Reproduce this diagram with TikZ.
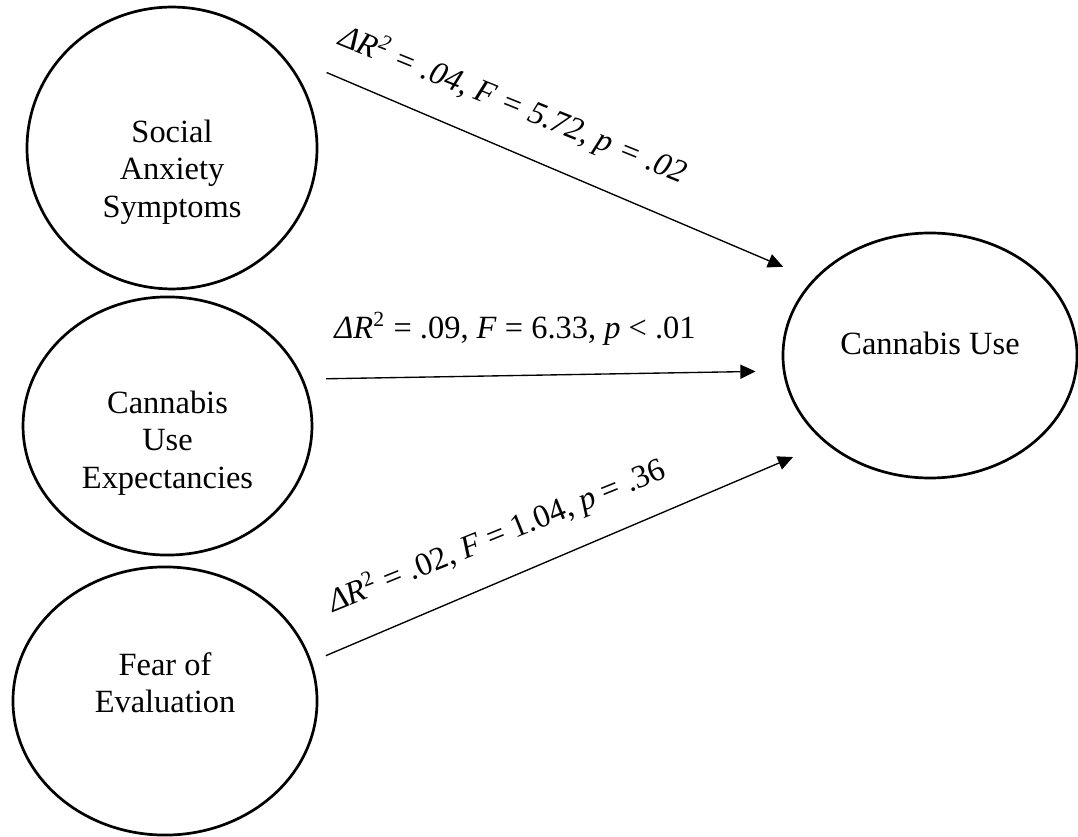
\documentclass[tikz,border=0pt]{standalone}
\usepackage{fontspec}
\setmainfont{Liberation Serif}
\usepackage{tikz}
\usetikzlibrary{shapes.geometric,arrows.meta}

\begin{document}
\begin{tikzpicture}[x=0.37pt,y=0.37pt,
  var/.style={draw=drawColor,ellipse,line width=1pt,inner sep=0pt},
  varText/.style={text=drawColor,align=center,font=\fontsize{12pt}{13.9pt}\selectfont},
  effect/.style={draw=drawColor,line width=0.5pt,-{Triangle[length=5.6pt,width=5.2pt]}},
  statLabel/.style={text=drawColor,inner sep=0pt,font=\fontsize{12pt}{13.9pt}\selectfont}]
\definecolor{drawColor}{RGB}{0,0,0}
\path[use as bounding box] (0,0) rectangle (1078,836);

% predictors
\node[var,minimum width=107.3pt,minimum height=104.3pt,
  label={[varText,yshift=-8.9pt]center:Social\\Anxiety\\Symptoms}] (sa) at (172,688) {};
\node[var,minimum width=106.9pt,minimum height=95.5pt,
  label={[varText,yshift=-6.3pt]center:Cannabis\\Use\\Expectancies}] (cue) at (167.5,410) {};
\node[var,minimum width=112.5pt,minimum height=99.2pt,
  label={[varText,yshift=6.7pt]center:Fear of\\Evaluation}] (fe) at (165,135) {};

% outcome
\node[var,minimum width=108.8pt,minimum height=90.65pt,
  label={[varText,yshift=4.6pt]center:Cannabis Use}] (cu) at (930,480.5) {};

% paths
\draw[effect,shorten <=18.3pt,shorten >=12pt] (sa.41) -- (cu.147);
\draw[effect,shorten <=8.3pt,shorten >=10.1pt] (cue.19) -- (cu.186);
\draw[effect,shorten <=5.7pt,shorten >=13pt] (fe.15) -- (cu.220);

% statistics
\node[statLabel,rotate=-22] (lab1) at (513,731) {\itshape ΔR\textsuperscript{2} = .04, F = 5.72, p = .02};
\node[statLabel] (lab2) at (515,507) {\textit{ΔR}\textsuperscript{2} = .09, \textit{F} = 6.33, \textit{p} < .01};
\node[statLabel,rotate=22] (lab3) at (497,300) {\textit{ΔR}\textsuperscript{2} = .02, \textit{F} = 1.04, \textit{p} = .36};
\end{tikzpicture}
\end{document}
